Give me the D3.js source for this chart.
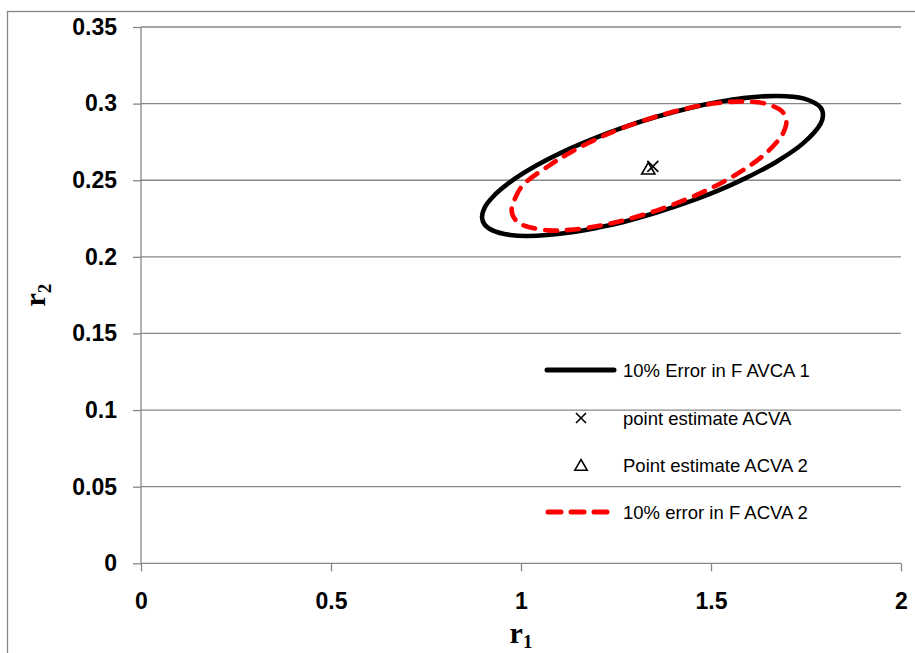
<!DOCTYPE html>
<html>
<head>
<meta charset="utf-8">
<script src="https://cdn.jsdelivr.net/npm/d3@7"></script>
<style>
  html, body { margin: 0; padding: 0; background: #fff; }
  svg { display: block; }
</style>
</head>
<body>
<svg id="chart" width="915" height="653"></svg>
<script>
// Confidence region for F ACVA 1 (10% error), closed contour traced as (r1, r2)
const ellipseAcva1R1 = [0.8974, 0.9039, 0.9250, 0.9711, 1.0413, 1.1289, 1.2026, 1.2697, 1.3566, 1.4447, 1.5184, 1.5855, 1.6724, 1.7429, 1.7882, 1.7947, 1.7882, 1.7429, 1.6724, 1.5855, 1.5184, 1.4447, 1.3566, 1.2697, 1.2026, 1.1289, 1.0197, 0.9711, 0.9250, 0.9039];
const ellipseAcva1R2 = [0.2260, 0.2319, 0.2389, 0.2487, 0.2597, 0.2706, 0.2783, 0.2845, 0.2914, 0.2972, 0.3010, 0.3036, 0.3050, 0.3034, 0.2975, 0.2926, 0.2868, 0.2742, 0.2621, 0.2507, 0.2432, 0.2362, 0.2289, 0.2228, 0.2191, 0.2159, 0.2136, 0.2143, 0.2173, 0.2212];

// Confidence region for F ACVA 2 (10% error)
const ellipseAcva2R1 = [0.9753, 0.9842, 1.0053, 1.0737, 1.1289, 1.2026, 1.2697, 1.3566, 1.4447, 1.5184, 1.5834, 1.6395, 1.6789, 1.6895, 1.6984, 1.6895, 1.6789, 1.6395, 1.5834, 1.5184, 1.4447, 1.3566, 1.2697, 1.2026, 1.1289, 1.0737, 1.0053, 0.9842];
const ellipseAcva2R2 = [0.2306, 0.2381, 0.2469, 0.2595, 0.2680, 0.2773, 0.2843, 0.2916, 0.2973, 0.3004, 0.3014, 0.3002, 0.2965, 0.2942, 0.2881, 0.2805, 0.2766, 0.2665, 0.2564, 0.2471, 0.2385, 0.2302, 0.2238, 0.2201, 0.2176, 0.2173, 0.2207, 0.2245];

// Point estimates
const pointAcva = [1.347, 0.259];
const pointAcva2 = [1.335, 0.257];

// Axis ticks
const xTicks = [0, 0.5, 1, 1.5, 2];
const xTickLabels = ["0", "0.5", "1", "1.5", "2"];
const yTicks = [0, 0.05, 0.1, 0.15, 0.2, 0.25, 0.3, 0.35];
const yTickLabels = ["0", "0.05", "0.1", "0.15", "0.2", "0.25", "0.3", "0.35"];

// Legend entries
const legendLabels = ["10% Error in F AVCA 1", "point estimate ACVA", "Point estimate ACVA 2", "10% error in F ACVA 2"];

const svg = d3.select("#chart");
const plot = { left: 141, right: 901, top: 27, bottom: 563.3 };

const x = d3.scaleLinear().domain([0, 2]).range([plot.left, plot.right]);
const y = d3.scaleLinear().domain([0, 0.35]).range([plot.bottom, plot.top]);

const grey = "#878787";

// Chart frame
svg.append("rect")
  .attr("x", 7.5).attr("y", 11.5)
  .attr("width", 930).attr("height", 660)
  .attr("fill", "none").attr("stroke", grey).attr("stroke-width", 1.3);

// Horizontal gridlines
svg.append("g")
  .selectAll("line")
  .data(yTicks.filter(d => d > 0))
  .join("line")
  .attr("x1", plot.left).attr("x2", plot.right)
  .attr("y1", d => y(d)).attr("y2", d => y(d))
  .attr("stroke", grey).attr("stroke-width", 1.3);

// Y axis
const yAxis = d3.axisLeft(y)
  .tickValues(yTicks)
  .tickFormat((d, i) => yTickLabels[i])
  .tickSize(8)
  .tickPadding(16);
const gy = svg.append("g").attr("transform", `translate(${plot.left},0)`).call(yAxis);

// X axis
const xAxis = d3.axisBottom(x)
  .tickValues(xTicks)
  .tickFormat((d, i) => xTickLabels[i])
  .tickSize(8)
  .tickPadding(21);
const gx = svg.append("g").attr("transform", `translate(0,${plot.bottom})`).call(xAxis);

[gx, gy].forEach(g => {
  g.select(".domain").attr("stroke", grey).attr("stroke-width", 1.3);
  g.selectAll(".tick line").attr("stroke", grey).attr("stroke-width", 1.3);
  g.selectAll(".tick text")
    .attr("fill", "#000")
    .style("font-family", "'Liberation Sans', Arial, sans-serif")
    .style("font-weight", "bold")
    .style("font-size", "23px");
});
gy.select(".domain").attr("d", `M0,${plot.bottom}V${plot.top}`);
gx.select(".domain").attr("d", `M${plot.left},0H${plot.right}`);

// Axis titles
const titleFont = "'Liberation Serif', 'Times New Roman', serif";
const xt = svg.append("text")
  .attr("x", (plot.left + plot.right) / 2)
  .attr("y", 643)
  .attr("text-anchor", "middle")
  .style("font-family", titleFont).style("font-weight", "bold").style("font-size", "30px");
xt.append("tspan").text("r");
xt.append("tspan").attr("dy", 5).style("font-size", "19px").text("1");

const yt = svg.append("text")
  .attr("transform", `translate(45,${(plot.top + plot.bottom) / 2}) rotate(-90)`)
  .attr("text-anchor", "middle")
  .style("font-family", titleFont).style("font-weight", "bold").style("font-size", "30px");
yt.append("tspan").text("r");
yt.append("tspan").attr("dy", 6).style("font-size", "19px").text("2");

// Contours
const contour = d3.line()
  .x(d => x(d[0])).y(d => y(d[1]))
  .curve(d3.curveCatmullRomClosed.alpha(0.5));

const acva1 = ellipseAcva1R1.map((v, i) => [v, ellipseAcva1R2[i]]);
const acva2 = ellipseAcva2R1.map((v, i) => [v, ellipseAcva2R2[i]]);

svg.append("path")
  .attr("d", contour(acva1))
  .attr("fill", "none").attr("stroke", "#000")
  .attr("stroke-width", 4.6).attr("stroke-linejoin", "round");

svg.append("path")
  .attr("d", contour(acva2))
  .attr("fill", "none").attr("stroke", "#ff0000")
  .attr("stroke-width", 4.6).attr("stroke-linecap", "round")
  .attr("stroke-dasharray", "12,10");

// Point markers
const crossPath = (cx, cy, r) => `M${cx - r},${cy - r}L${cx + r},${cy + r}M${cx - r},${cy + r}L${cx + r},${cy - r}`;
const triPath = (cx, cy, r) => `M${cx},${cy - r}L${cx + r * 0.95},${cy + r * 0.65}L${cx - r * 0.95},${cy + r * 0.65}Z`;

svg.append("path")
  .attr("d", crossPath(x(pointAcva[0]), y(pointAcva[1]), 5.5))
  .attr("stroke", "#000").attr("stroke-width", 1.6).attr("fill", "none");
svg.append("path")
  .attr("d", triPath(x(pointAcva2[0]), y(pointAcva2[1]), 7))
  .attr("stroke", "#000").attr("stroke-width", 1.6).attr("fill", "none");

// Legend
const legendFont = "'Liberation Sans', Arial, sans-serif";
const legRows = [370, 418, 465, 512];
const lg = svg.append("g");
legRows.forEach((ry, i) => {
  lg.append("text")
    .attr("x", 623).attr("y", ry)
    .attr("dy", "0.36em")
    .style("font-family", legendFont).style("font-size", "18.5px")
    .attr("fill", "#000")
    .text(legendLabels[i]);
});
lg.append("line")
  .attr("x1", 547).attr("x2", 614).attr("y1", legRows[0]).attr("y2", legRows[0])
  .attr("stroke", "#000").attr("stroke-width", 5).attr("stroke-linecap", "round");
lg.append("path")
  .attr("d", crossPath(581, legRows[1], 5))
  .attr("stroke", "#000").attr("stroke-width", 1.6).attr("fill", "none");
lg.append("path")
  .attr("d", triPath(581, legRows[2] + 1, 6.5))
  .attr("stroke", "#000").attr("stroke-width", 1.6).attr("fill", "none");
lg.append("line")
  .attr("x1", 548).attr("x2", 610).attr("y1", legRows[3]).attr("y2", legRows[3])
  .attr("stroke", "#ff0000").attr("stroke-width", 5).attr("stroke-linecap", "round")
  .attr("stroke-dasharray", "13,10");
</script>
</body>
</html>
